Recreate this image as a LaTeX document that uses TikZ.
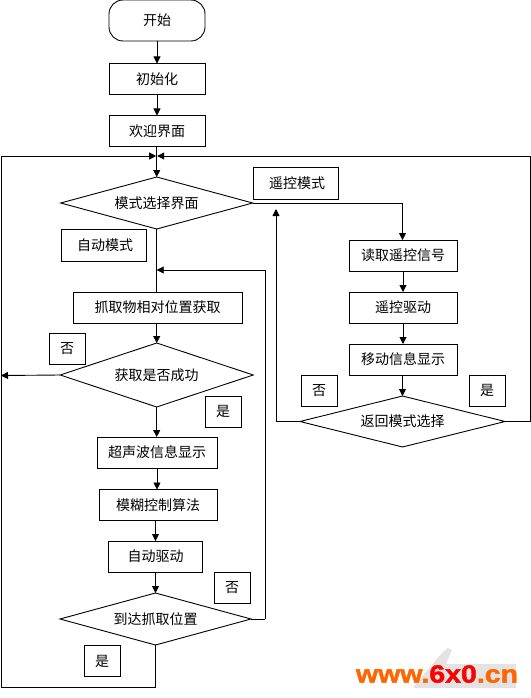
\documentclass[tikz,border=0pt]{standalone}
\usepackage{fontspec}
\usetikzlibrary{arrows.meta,shapes.geometric}
\newfontfamily\cjk{Noto Sans CJK SC}
\newfontfamily\wm{Liberation Sans}[BoldFeatures={FakeBold=1.5}]
\tikzset{
  x=1pt,y=-1pt,
  base/.style={draw=black,line width=0.9pt,inner sep=0pt,outer sep=0pt,font=\cjk\fontsize{14}{14}\selectfont,fill=white},
  procbox/.style={base,rectangle,minimum width=#1,minimum height=31},
  procbox/.default=108,
  labelbox/.style={base,rectangle,minimum width=36,minimum height=31},
  modebox/.style={base,rectangle,minimum width=85,minimum height=32},
  decision/.style 2 args={base,diamond,aspect=3,minimum width=#1,minimum height=#2},
  flow/.style={draw=black,line width=0.9pt,-{Triangle[width=7pt,length=7pt]}},
  plain/.style={draw=black,line width=0.9pt},
}
\begin{document}
\begin{tikzpicture}
\useasboundingbox (0,0) rectangle (530,698);
% coordinates
\coordinate (merge) at (156.7,156);
\coordinate (loopin) at (156.7,270);
\coordinate (tl) at (1,156);
\coordinate (bl) at (1,687);
\coordinate (failtip) at (1,375.5);
\coordinate (modecorner) at (402.5,203);
\coordinate (rettip) at (276,209);
\coordinate (retcorner) at (276,421.5);
\coordinate (yescorner) at (530,421.5);
\coordinate (yestop) at (530,156);
\coordinate (loopcorner) at (265,619);
\coordinate (looptop) at (265,270);
% watermark
\fill[gray!22] (414,686) -- (436,660) -- (441,654) -- (448,648) -- (452,650) -- (446,664) -- (516,664) -- (516,688) -- (414,688) -- cycle;
\node[inner sep=0pt,anchor=center,xscale=1.14,font=\wm\bfseries\fontsize{25}{25}\selectfont] (mark) at (437,674) {\textcolor[HTML]{FF6600}{www.}\textcolor[HTML]{FF0000}{6x0}\textcolor[HTML]{FF6600}{.cn}};
% nodes
\node[base,rounded corners=14pt,minimum width=96,minimum height=41] (start) at (157,20.5) {开始};
\node[procbox=96] (init) at (157,79) {初始化};
\node[procbox=96] (welcome) at (157,131) {欢迎界面};
\node[decision={192}{52}] (mode) at (156.7,203) {模式选择界面};
\node[modebox] (auto) at (103.5,245.5) {\hspace*{3pt}自动模式};
\node[modebox] (remote) at (295.5,183) {\hspace*{3pt}遥控模式};
\node[procbox=169] (grab) at (157.5,307.5) {抓取物相对位置获取};
\node[decision={193}{64}] (got) at (156.7,375) {获取是否成功};
\node[labelbox] (gotno) at (67,348.5) {否};
\node[labelbox] (gotyes) at (223,411.5) {是};
\node[procbox=120] (sonic) at (157,452.5) {超声波信息显示};
\node[procbox=118] (fuzzy) at (158,505) {模糊控制算法};
\node[procbox=94] (drive) at (155.5,556.5) {自动驱动};
\node[decision={191}{52}] (reach) at (155.5,619) {到达抓取位置};
\node[labelbox] (reachno) at (232,588) {否};
\node[labelbox] (reachyes) at (102,661) {是};
\node[procbox] (read) at (403,255.5) {读取遥控信号};
\node[procbox] (rdrive) at (403,307.5) {遥控驱动};
\node[procbox] (move) at (403,359.5) {移动信息显示};
\node[decision={205}{51}] (back) at (402.5,421.5) {返回模式选择};
\node[labelbox] (backno) at (319,390.5) {否};
\node[labelbox] (backyes) at (487,390.5) {是};
% connectors
\draw[plain] (mode.south) -- (grab.north -| mode.south);
\draw[flow] (looptop) -- (loopin);
\draw[plain] (loopcorner) -- (looptop);
\draw[flow] (start) -- (init);
\draw[flow] (init) -- (welcome);
\draw[flow] (welcome.south -| mode.north) -- (mode.north);
\draw[flow] (tl) -- ([xshift=-0.5]merge);
\draw[flow] (yestop) -- ([xshift=0.5]merge);
\draw[plain] (tl) -- (bl) -| (reach.south);
\draw[plain] (mode.east) -- (modecorner);
\draw[flow] (modecorner) -- (read.north -| modecorner);
\draw[flow] (read) -- (rdrive);
\draw[flow] (rdrive) -- (move);
\draw[flow] (move.south -| back.north) -- (back.north);
\draw[plain] (back.west) -- (retcorner);
\draw[flow] (retcorner) -- (rettip);
\draw[plain] (back.east) -- (yescorner) -- (yestop);
\draw[flow] (grab.south -| got.north) -- (got.north);
\draw[flow] (got.west) -- (failtip);
\draw[flow] (got.south) -- (sonic.north -| got.south);
\draw[flow] (sonic) -- (fuzzy.north -| sonic);
\draw[flow] (fuzzy.south -| drive) -- (drive);
\draw[flow] (drive) -- (reach.north);
\draw[plain] (reach.east) -- (loopcorner);
\end{tikzpicture}
\end{document}
